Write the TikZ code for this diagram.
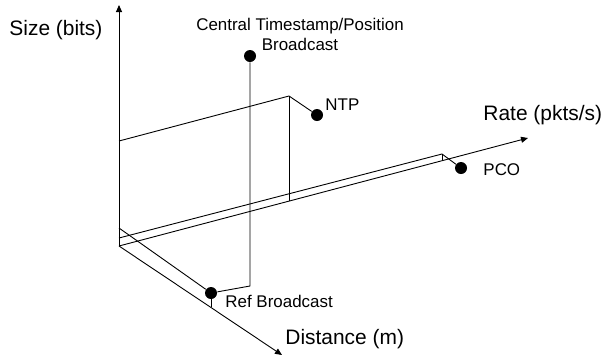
\documentclass[tikz,border=0pt]{standalone}
\usepackage{fontspec}
\setmainfont{Liberation Sans}
\usetikzlibrary{arrows.meta}

\begin{document}
\begin{tikzpicture}[x=1bp, y=-1bp, line width=0.9bp, every node/.style={inner sep=0pt}]
\tikzset{axis/.style={-{Triangle[length=7bp,width=6bp]}},
  dot/.style={circle, fill, minimum size=12bp},
  axislabel/.style={font=\fontsize{21}{25}\selectfont, anchor=base west},
  ptlabel/.style={font=\fontsize{17}{20}\selectfont, anchor=base west}}
\useasboundingbox (0,0) rectangle (608,358);
% axes
\coordinate (origin) at (119,246);
\coordinate (sizetip) at (119,5);
\coordinate (ratetip) at (528,138);
\coordinate (disttip) at (282,355);
\draw[axis] (origin) -- (sizetip);
\draw[axis] (origin) -- (ratetip);
\draw[axis] (origin) -- (disttip);
\node[axislabel] (sizelabel) at (9,35) {Size (bits)};
\node[axislabel] (ratelabel) at (483,120) {Rate (pkts/s)};
\node[axislabel] (distlabel) at (285,344) {Distance (m)};
% points
\node[dot] (central) at (250,56) {};
\node[dot] (ntp) at (317,115) {};
\node[dot] (pco) at (461,168) {};
\node[dot] (ref) at (211,293) {};
\node[ptlabel, align=center, anchor=north] (centraltext) at (300,18) {Central Timestamp/Position\\Broadcast};
\node[ptlabel] (ntptext) at (325,110) {NTP};
\node[ptlabel] (pcotext) at (483,175) {PCO};
\node[ptlabel] (reftext) at (225,307) {Ref Broadcast};
% projection lines
\coordinate (ntpsize) at (119,141);
\coordinate (ntpcorner) at (289,96);
\coordinate (ntpbase) at (289,201);
\coordinate (pcosize) at (119,238);
\coordinate (pcocorner) at (442,154);
\coordinate (pcobase) at (442,161);
\coordinate (refsize) at (119,228);
\coordinate (refbase) at (211,307);
\coordinate (centralbase) at (250,286);
\draw (ntpsize) -- (ntpcorner) -- (ntp);
\draw (ntpcorner) -- (ntpbase);
\draw (pcosize) -- (pcocorner) -- (pco);
\draw (pcocorner) -- (pcobase);
\draw (refsize) -- (ref) -- (centralbase) -- (central);
\draw (ref) -- (refbase);
\end{tikzpicture}
\end{document}
